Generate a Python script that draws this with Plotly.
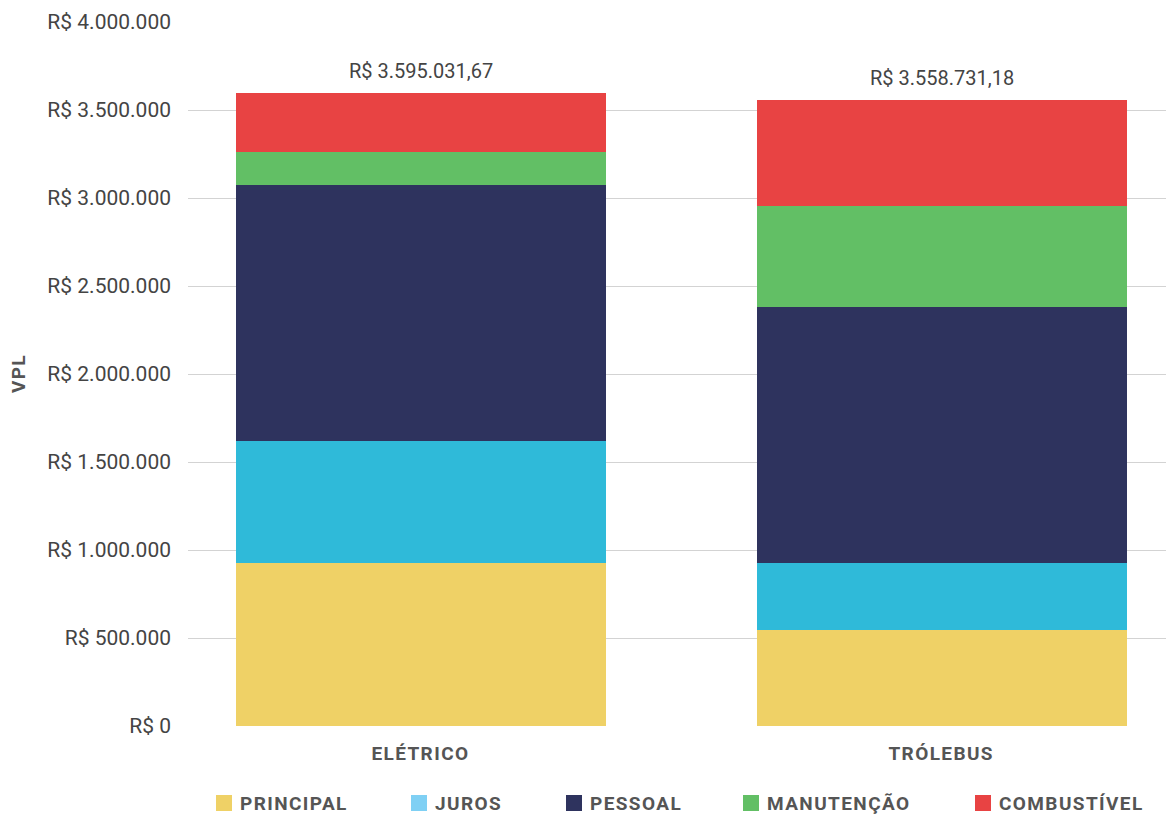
import plotly.graph_objects as go

categories = ["ELÉTRICO", "TRÓLEBUS"]
series_names = ["PRINCIPAL", "JUROS", "PESSOAL", "MANUTENÇÃO", "COMBUSTÍVEL"]
principal = [926000, 545000]
juros = [693000, 381000]
pessoal = [1455000, 1455000]
manutencao = [187000, 574000]
combustivel = [334032, 603731]
totals = [3595031.67, 3558731.18]
total_labels = ["R$ 3.595.031,67", "R$ 3.558.731,18"]
tick_vals = [0, 500000, 1000000, 1500000, 2000000, 2500000, 3000000, 3500000, 4000000]
tick_text = ["R$ 0", "R$ 500.000", "R$ 1.000.000", "R$ 1.500.000", "R$ 2.000.000",
             "R$ 2.500.000", "R$ 3.000.000", "R$ 3.500.000", "R$ 4.000.000"]

bar_colors = ["#EFD166", "#2FBAD9", "#2E335E", "#62BF65", "#E84343"]
legend_colors = ["#EFD166", "#7FD0F4", "#2E335E", "#62BF65", "#E84343"]

W, H = 1166, 814
L, R, T, B = 188, 0, 22, 88
pw = W - L - R
ph = H - T - B

FONT = "Roboto"
fig = go.Figure()
for name, vals, col in zip(series_names, [principal, juros, pessoal, manutencao, combustivel], bar_colors):
    fig.add_trace(go.Bar(x=[0, 1], y=vals, name=name, marker=dict(color=col, line=dict(width=0)),
                         width=0.71, showlegend=False, hoverinfo="y"))

# totals above bars
for i, (t, lab) in enumerate(zip(totals, total_labels)):
    fig.add_annotation(x=i, xref="x", y=t, yref="y", text=lab, showarrow=False,
                       xanchor="center", yanchor="bottom", yshift=8,
                       font=dict(family=FONT, size=20, color="#444444"))

# category labels
for i, c in enumerate(categories):
    fig.add_annotation(x=i, xref="x", y=(726 - 753) / ph, yref="paper", text="<b>" + c + "</b>",
                       showarrow=False, font=dict(family=FONT, size=19, color="#555555"),
                       xanchor="center", yanchor="middle")

# legend (manual)
marker_px = [216, 411, 566, 743, 975]
ly = 803
for name, col, mx in zip(series_names, legend_colors, marker_px):
    fig.add_shape(type="rect", xref="paper", yref="paper",
                  x0=(mx - L) / pw, x1=(mx + 16 - L) / pw,
                  y0=(726 - (ly + 8)) / ph, y1=(726 - (ly - 8)) / ph,
                  fillcolor=col, line=dict(width=0))
    fig.add_annotation(x=(mx + 22 - L) / pw, xref="paper", y=(726 - ly) / ph, yref="paper",
                       text="<b>" + name + "</b>", showarrow=False, xanchor="left", yanchor="middle",
                       align="left", font=dict(family=FONT, size=19, color="#555555"))

# y title
fig.add_annotation(x=(18 - L) / pw, xref="paper", y=(726 - 374) / ph, yref="paper",
                   text="<b>VPL</b>", textangle=-90, showarrow=False,
                   font=dict(family=FONT, size=19, color="#555555"),
                   xanchor="center", yanchor="middle")

fig.update_layout(
    width=W, height=H, barmode="stack",
    margin=dict(l=L, r=R, t=T, b=B),
    plot_bgcolor="white", paper_bgcolor="white",
    xaxis=dict(range=[-0.447, 1.43], showticklabels=False, showgrid=False, zeroline=False,
               showline=False, fixedrange=True),
    yaxis=dict(range=[0, 4000000], tickvals=tick_vals, ticktext=tick_text,
               showgrid=True, gridcolor="#D3D3D3", gridwidth=1, zeroline=False, showline=False,
               tickfont=dict(family=FONT, size=21, color="#444444"), ticklabelstandoff=16,
               fixedrange=True),
    bargap=0.29, showlegend=False,
)

post = """
document.body.style.margin='0';
document.body.style.overflow='hidden';
document.querySelectorAll('.annotation-text').forEach(function(e){
  if (e.innerHTML.indexOf('bold') !== -1) { e.style.letterSpacing = '1.4px'; }
});
"""
fig.write_html("out.html", post_script=post, config={"displayModeBar": False})
